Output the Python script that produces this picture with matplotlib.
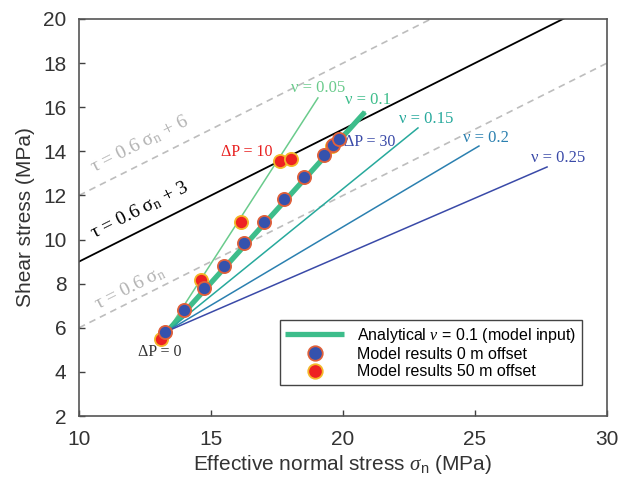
import matplotlib

matplotlib.use("Agg")

import matplotlib.pyplot as plt
import numpy as np

plt.rcParams["font.family"] = ["Liberation Sans", "DejaVu Sans"]
plt.rcParams["mathtext.fontset"] = "custom"
plt.rcParams["mathtext.rm"] = "Liberation Serif"
plt.rcParams["mathtext.it"] = "Liberation Serif:italic"
plt.rcParams["mathtext.sf"] = "Liberation Sans"

# analytical stress paths for several Poisson ratios
nu_values = [0.05, 0.1, 0.15, 0.2, 0.25]
path_start = (13.35, 5.85)
path_end_sigma = [19.05, 20.83, 22.84, 25.15, 27.73]
path_end_tau = [16.42, 15.78, 15.06, 14.24, 13.29]

# model results
blue_sigma = [13.26, 13.98, 14.73, 15.49, 16.25, 17.01, 17.77, 18.52, 19.28, 19.62, 19.85]
blue_tau = [5.81, 6.81, 7.81, 8.80, 9.85, 10.80, 11.84, 12.84, 13.83, 14.29, 14.56]
red_sigma = [13.11, 14.62, 16.14, 17.61, 18.03, 19.58]
red_tau = [5.49, 8.17, 10.80, 13.56, 13.65, 14.25]

# Coulomb failure lines tau = 0.6 sigma_n + c
friction = 0.6
cohesions = [0, 3, 6]

x_ticks = [10, 15, 20, 25, 30]
y_ticks = [2, 4, 6, 8, 10, 12, 14, 16, 18, 20]

nu_colors = ["#6acb8c", "#3dbd8b", "#27a99c", "#2b80b0", "#3a4aa8"]
nu_label_pos = [(19.05, 16.87), (20.95, 16.33), (23.15, 15.47), (25.4, 14.61), (28.15, 13.70)]

fig = plt.figure(figsize=(6.29, 4.83), dpi=100)
ax = fig.add_axes([0.1256, 0.1387, 0.8394, 0.822])
ax.set_xlim(10, 30)
ax.set_ylim(2, 20)

sigma_range = np.array([10.0, 30.0])
for c in cohesions:
    if c == 3:
        ax.plot(sigma_range, friction * sigma_range + c, color="black", lw=1.3, zorder=2)
    else:
        ax.plot(sigma_range, friction * sigma_range + c, color="#bdbdbd", lw=1.2,
                dashes=(4, 3), zorder=1)

for nu, s_end, t_end, color, pos in zip(nu_values, path_end_sigma, path_end_tau,
                                         nu_colors, nu_label_pos):
    ax.plot([path_start[0], s_end], [path_start[1], t_end], color=color, lw=1.1, zorder=3)
    if nu == 0.1:
        ax.plot([path_start[0], s_end], [path_start[1], t_end], color=color, lw=3.8,
                solid_capstyle="butt", zorder=3, label=r"Analytical $\nu$ = 0.1 (model input)")
    ax.text(pos[0], pos[1], f"ν = {nu:g}", color=color, fontsize=12,
            family="Liberation Serif", ha="center", va="center")

ax.plot(red_sigma, red_tau, "o", ms=9.5, mfc="#ee2222", mec="#f4b82a", mew=1.3,
        zorder=4)
ax.plot(blue_sigma, blue_tau, "o", ms=9.5, mfc="#3552ad", mec="#e0603a", mew=1.3,
        zorder=5, label="Model results 0 m offset")
ax.plot([], [], "o", ms=9.5, mfc="#ee2222", mec="#f4b82a", mew=1.3,
        label="Model results 50 m offset")

# rotated labels on Coulomb lines
p0 = ax.transData.transform((10, 10))
p1 = ax.transData.transform((20, 10 + friction * 10))
angle = np.degrees(np.arctan2(p1[1] - p0[1], p1[0] - p0[0]))
coulomb_labels = [
    (r"τ = 0.6 σ$_{\mathrm{n}}$ + 6", (12.31, 14.32), "#b3b3b3"),
    (r"τ = 0.6 σ$_{\mathrm{n}}$ + 3", (12.31, 11.32), "black"),
    (r"τ = 0.6 σ$_{\mathrm{n}}$", (11.93, 7.80), "#b3b3b3"),
]
for text, pos, color in coulomb_labels:
    ax.text(pos[0], pos[1], text, color=color, fontsize=14, family="Liberation Serif",
            rotation=angle, rotation_mode="anchor", ha="center", va="center")

ax.text(16.36, 13.97, "ΔP = 10", color="#e82020", fontsize=11.5,
        family="Liberation Serif", ha="center", va="center")
ax.text(21.02, 14.42, "ΔP = 30", color="#3a4aa8", fontsize=11.5,
        family="Liberation Serif", ha="center", va="center")
ax.text(13.07, 4.90, "ΔP = 0", color="#333333", fontsize=11.5,
        family="Liberation Serif", ha="center", va="center")

ax.set_xticks(x_ticks)
ax.set_yticks(y_ticks)
ax.tick_params(direction="in", length=4, width=1, labelsize=15, colors="#404040",
               labelcolor="#333333")
ax.tick_params(axis="x", pad=10)
ax.tick_params(axis="y", pad=9)
for spine in ax.spines.values():
    spine.set_color("#555555")
    spine.set_linewidth(1.2)

ax.set_xlabel(r"Effective normal stress $\sigma_{\mathsf{n}}$ (MPa)", fontsize=15,
              color="#333333", labelpad=3)
ax.set_ylabel("Shear stress (MPa)", fontsize=15, color="#333333", labelpad=6)

legend = ax.legend(loc="lower right", bbox_to_anchor=(0.953, 0.078), borderaxespad=0,
                   fontsize=11.5, fancybox=False, framealpha=1, edgecolor="#444444",
                   handlelength=3.7, borderpad=0.35, labelspacing=0.15, markerscale=1.1)
legend.get_frame().set_linewidth(1.0)

fig.savefig("out.png", dpi=100)
